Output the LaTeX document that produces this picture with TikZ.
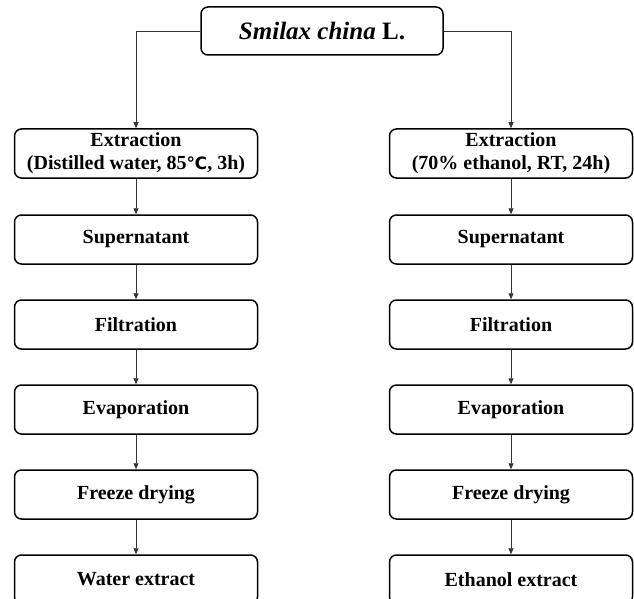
\documentclass[tikz,border=0pt]{standalone}
\usepackage{fontspec}
\setmainfont{Liberation Serif}
\newfontfamily\symfont{DejaVu Sans}
\usetikzlibrary{arrows.meta}
\begin{document}
\begin{tikzpicture}[x=1pt,y=-1pt,
  box/.style={draw, line width=1.5pt, rounded corners=7pt, minimum width=243pt, minimum height=49pt,
    inner sep=0pt, align=center, font=\fontsize{20}{22}\selectfont\bfseries},
  arr/.style={-{Triangle[length=6pt,width=5pt]}, line width=0.8pt, draw=black!80}]
\useasboundingbox (0,0) rectangle (634,599);
\node[box, minimum width=242pt, minimum height=48pt, font=\fontsize{25}{28}\selectfont\bfseries] (top) at (322,31) {\textit{Smilax china} L.};
% left column
\node[box] (l1) at (136,153.5) {Extraction\\[1pt](Distilled water, 85{\symfont\fontsize{17}{20}\selectfont ℃}, 3h)};
\node[box] (l2) at (136,239.5) {\raisebox{-2pt}{Supernatant}};
\node[box] (l3) at (136,324.5) {\raisebox{-2pt}{Filtration}};
\node[box] (l4) at (136,409.5) {\raisebox{-2pt}{Evaporation}};
\node[box] (l5) at (136,494.5) {\raisebox{-2pt}{Freeze drying}};
\node[box] (l6) at (136,579.5) {\raisebox{-2pt}{Water extract}};
% right column
\node[box] (r1) at (511,153.5) {Extraction\\[1pt](70\% ethanol, RT, 24h)};
\node[box] (r2) at (511,239.5) {\raisebox{-2pt}{Supernatant}};
\node[box] (r3) at (511,324.5) {\raisebox{-2pt}{Filtration}};
\node[box] (r4) at (511,409.5) {\raisebox{-2pt}{Evaporation}};
\node[box] (r5) at (511,494.5) {\raisebox{-2pt}{Freeze drying}};
\node[box] (r6) at (511,579.5) {\raisebox{-2pt}{Ethanol extract}};
\draw[arr] (top.west) -| (l1.north);
\draw[arr] (top.east) -| (r1.north);
\foreach \a/\b in {l1/l2,l2/l3,l3/l4,l4/l5,l5/l6,r1/r2,r2/r3,r3/r4,r4/r5,r5/r6}
  \draw[arr] (\a.south) -- (\b.north);
\end{tikzpicture}
\end{document}
